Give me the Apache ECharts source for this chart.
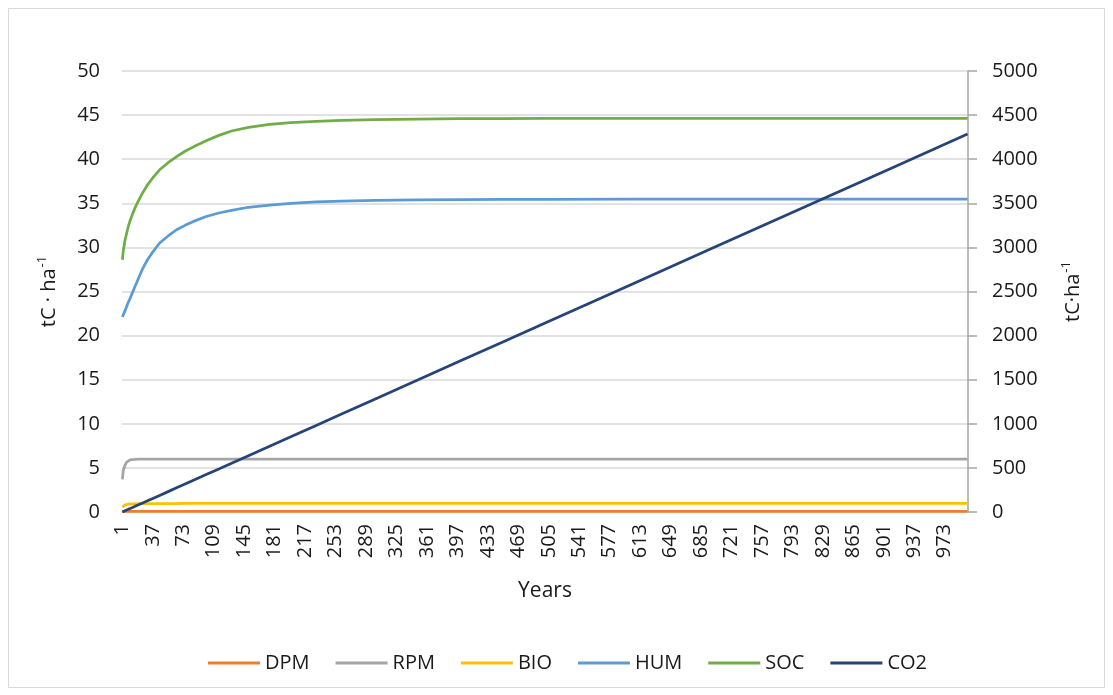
<!DOCTYPE html>
<html>
<head>
<meta charset="utf-8">
<script src="https://cdn.jsdelivr.net/npm/echarts@6/dist/echarts.min.js"></script>
<style>
html,body{margin:0;padding:0;background:#fff;}
#chart{width:1113px;height:695px;}
</style>
</head>
<body>
<div id="chart"></div>
<script>
const sampleYears = [1,2,4,6,8,10,13,16,20,25,30,37,45,55,65,75,85,100,115,130,150,175,200,230,260,300,350,400,450,500,600,700,800,900,1000];
const DPM = [0.08,0.08,0.08,0.08,0.08,0.08,0.08,0.08,0.08,0.08,0.08,0.08,0.08,0.08,0.08,0.08,0.08,0.08,0.08,0.08,0.08,0.08,0.08,0.08,0.08,0.08,0.08,0.08,0.08,0.08,0.08,0.08,0.08,0.08,0.08];
const RPM = [3.7,4.7,5.3,5.65,5.82,5.9,5.95,5.98,6.0,6.0,6.0,6.0,6.0,6.0,6.0,6.0,6.0,6.0,6.0,6.0,6.0,6.0,6.0,6.0,6.0,6.0,6.0,6.0,6.0,6.0,6.0,6.0,6.0,6.0,6.0];
const BIO = [0.55,0.7,0.8,0.85,0.88,0.9,0.92,0.93,0.94,0.95,0.95,0.96,0.96,0.96,0.96,0.97,0.97,0.97,0.97,0.97,0.97,0.97,0.97,0.97,0.97,0.97,0.97,0.97,0.97,0.97,0.97,0.97,0.97,0.97,0.97];
const HUM = [22.1,22.35,22.8,23.3,23.8,24.2,24.9,25.6,26.5,27.6,28.5,29.5,30.5,31.3,32.0,32.5,32.95,33.5,33.9,34.2,34.55,34.8,35.0,35.15,35.25,35.33,35.4,35.43,35.45,35.45,35.46,35.46,35.46,35.46,35.46];
const SOC = [28.6,29.6,30.8,31.6,32.4,33.0,33.8,34.5,35.3,36.2,37.0,37.9,38.8,39.6,40.3,40.9,41.4,42.1,42.7,43.2,43.6,43.95,44.15,44.3,44.4,44.5,44.55,44.6,44.6,44.62,44.62,44.62,44.62,44.62,44.62];
const CO2 = [0,4,13,21,30,39,51,64,81,103,124,154,188,231,274,317,360,424,488,553,639,746,853,982,1111,1282,1496,1711,1925,2140,2569,2998,3427,3856,4286];

const firstYear = 1, lastYear = 1000;
const yearCategories = [];
for (let y = firstYear; y <= lastYear; y++) yearCategories.push(String(y));

const seriesNames = ['DPM','RPM','BIO','HUM','SOC','CO2'];
const seriesValues = [DPM, RPM, BIO, HUM, SOC, CO2];
const seriesColors = ['#ED7D31','#A5A5A5','#FFC000','#5B9BD5','#70AD47','#264478'];

const FONT = 'Open Sans';
const TXT = '#1a1a1a';

function pairs(vals){ return sampleYears.map((y,i)=>[String(y), vals[i]]); }

const axisName = {
  fontFamily: FONT, color: TXT,
  rich: {
    t: {fontFamily: FONT, fontSize: 20, color: TXT, lineHeight: 26, verticalAlign: 'middle'},
    s: {fontFamily: FONT, fontSize: 13, color: TXT, lineHeight: 26, verticalAlign: 'top', padding:[0,0,0,1]}
  }
};

const chart = echarts.init(document.getElementById('chart'), null, {renderer:'canvas'});
chart.setOption({
  animation: false,
  backgroundColor: '#fff',
  textStyle: {fontFamily: FONT},
  graphic: [{
    type: 'rect', shape: {x: 8.5, y: 8.5, width: 1096, height: 679},
    style: {fill: 'none', stroke: '#d9d9d9', lineWidth: 1}, silent: true, z: -1
  }],
  grid: {left: 122, right: 145, top: 71, bottom: 183, containLabel: false},
  legend: {
    left: 203, top: 648,
    icon: 'rect', itemWidth: 52, itemHeight: 3, itemGap: 26,
    textStyle: {fontFamily: FONT, fontSize: 20, color: TXT},
    data: seriesNames
  },
  xAxis: {
    type: 'category', data: yearCategories, boundaryGap: true,
    name: 'Years', nameLocation: 'middle', nameGap: 69,
    nameTextStyle: {fontFamily: FONT, fontSize: 21, color: TXT},
    axisLine: {show: true, lineStyle: {color: '#d9d9d9', width: 1.5}},
    axisTick: {show: false},
    axisLabel: {interval: 35, rotate: 90, margin: 12, fontFamily: FONT, fontSize: 20, color: TXT},
    splitLine: {show: false}
  },
  yAxis: [{
    type: 'value', min: 0, max: 50, interval: 5,
    name: '{t|tC · ha}{s|-1}', nameLocation: 'middle', nameGap: 60, nameRotate: 90,
    nameTextStyle: axisName,
    axisLine: {show: false}, axisTick: {show: false},
    axisLabel: {margin: 22, fontFamily: FONT, fontSize: 20, color: TXT},
    splitLine: {show: true, lineStyle: {color: '#d9d9d9', width: 1.5}}
  },{
    type: 'value', min: 0, max: 5000, interval: 500, position: 'right',
    name: '{t|tC·ha}{s|-1}', nameLocation: 'middle', nameGap: 92, nameRotate: 90,
    nameTextStyle: axisName,
    axisLine: {show: true, lineStyle: {color: '#a6a6a6', width: 1.5}},
    axisTick: {show: true, length: 9, inside: false, lineStyle: {color: '#a6a6a6', width: 1.5}},
    axisLabel: {margin: 24, fontFamily: FONT, fontSize: 20, color: TXT, formatter: v => String(v)},
    splitLine: {show: false}
  }],
  series: seriesNames.map((n,i)=>({
    name: n, type: 'line', yAxisIndex: n === 'CO2' ? 1 : 0,
    data: pairs(seriesValues[i]),
    showSymbol: false, symbol: 'none',
    smooth: false,
    lineStyle: {color: seriesColors[i], width: 2.75},
    itemStyle: {color: seriesColors[i]},
    z: 2 + i
  }))
});
</script>
</body>
</html>
